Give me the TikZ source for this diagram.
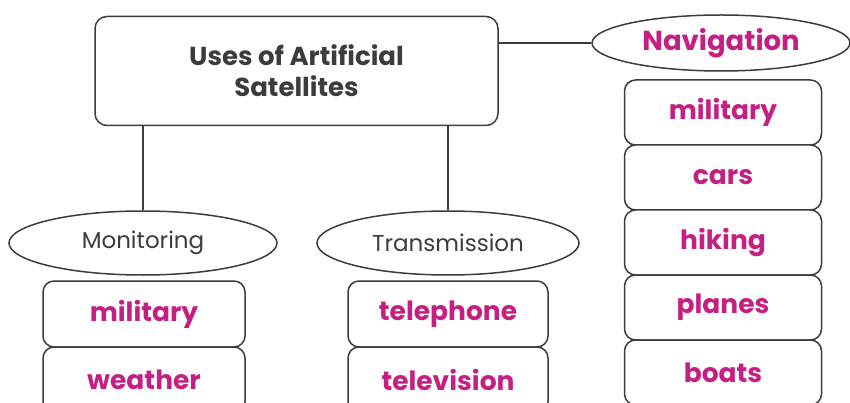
\documentclass[tikz,border=0pt]{standalone}
\usepackage{fontspec}
\setmainfont{Poppins}
\usetikzlibrary{shapes.geometric}
\definecolor{mag}{RGB}{196,32,132}
\definecolor{ink}{RGB}{60,60,60}
\tikzset{
  ln/.style={draw=ink, line width=1.5pt},
  ellip/.style={ln, ellipse, fill=white, inner sep=0pt},
  item/.style={ln, rounded corners=11pt, fill=white, minimum width=200pt, minimum height=66pt, text=mag, font=\fontsize{26.5}{30}\selectfont\bfseries},
  sub/.style={ellip, minimum height=64pt, text=ink, font=\fontsize{23}{26}\selectfont}
}
\begin{document}
\begin{tikzpicture}[x=1pt,y=-1pt]
\useasboundingbox (0,0) rectangle (850,403);
\node[ln, rounded corners=12pt, minimum width=403pt, minimum height=109pt, align=center, text=ink, font=\fontsize{26}{31}\selectfont\bfseries] (main) at (296.5,71) {Uses of Artificial\\Satellites};
\node[ellip, minimum width=258pt, minimum height=56pt, text=mag, font=\fontsize{27.5}{30}\selectfont\bfseries] (navi) at (721,43) {Navigation};
\node[sub, minimum width=268pt] (mon) at (143,243) {Monitoring};
\node[sub, minimum width=262pt] (tra) at (448,243) {Transmission};
\node[item, minimum width=197pt, minimum height=65pt] (n1) at (723,112.5) {military};
\node[item, minimum width=197pt, minimum height=65pt] (n2) at (723,177.5) {cars};
\node[item, minimum width=197pt, minimum height=65pt] (n3) at (723,242.5) {hiking};
\node[item, minimum width=197pt, minimum height=65pt] (n4) at (723,307.5) {planes};
\node[item, minimum width=197pt, minimum height=65pt] (n5) at (723,372.5) {boats};
\node[item, minimum width=202pt] (m1) at (144,314) {military};
\node[item, minimum width=202pt] (m2) at (144,380) {weather};
\node[item] (t1) at (448,314) {telephone};
\node[item] (t2) at (448,380) {television};
\draw[ln] (navi.west) -- (navi.west -| main.east);
\draw[ln] (mon.north) -- (mon.north |- main.south);
\draw[ln] (tra.north) -- (tra.north |- main.south);
\end{tikzpicture}
\end{document}
